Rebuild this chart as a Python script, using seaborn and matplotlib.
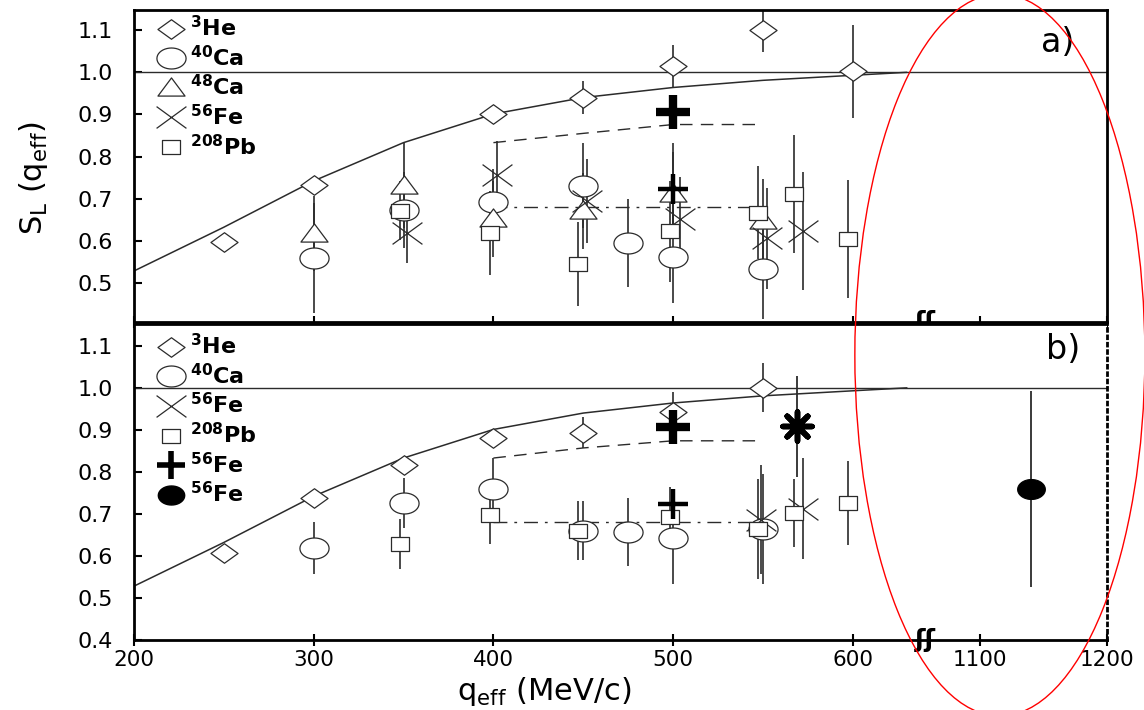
import numpy as np
import matplotlib
matplotlib.use("Agg")
import matplotlib.pyplot as plt
import seaborn as sns
from matplotlib.path import Path
from matplotlib.lines import Line2D
from matplotlib.patches import Ellipse

# ---------------- data ----------------
curve_q = [200, 250, 300, 350, 400, 450, 500, 550, 600, 630]
curve_s = [0.528, 0.632, 0.742, 0.833, 0.901, 0.940, 0.964, 0.981, 0.993, 1.0]

# panel a
a_he_q = [250, 300, 400, 450, 500, 550, 600]
a_he_s = [0.598, 0.733, 0.902, 0.940, 1.014, 1.100, 1.002]
a_he_e = [0.0, 0.0, 0.012, 0.040, 0.050, 0.052, 0.110]
a_ca40_q = [300, 350, 400, 450, 475, 500, 550]
a_ca40_s = [0.559, 0.673, 0.691, 0.731, 0.594, 0.562, 0.533]
a_ca40_e = [0.13, 0.09, 0.08, 0.10, 0.105, 0.11, 0.12]
a_ca48_q = [300, 350, 400, 450, 500, 550]
a_ca48_s = [0.617, 0.731, 0.652, 0.671, 0.711, 0.646]
a_ca48_e = [0.09, 0.10, 0.09, 0.09, 0.10, 0.10]
a_fe_q = [352, 402, 452, 504, 552, 572]
a_fe_s = [0.618, 0.757, 0.695, 0.652, 0.606, 0.624]
a_fe_e = [0.07, 0.08, 0.10, 0.10, 0.12, 0.14]
a_pb_q = [348, 398, 447, 498, 547, 567, 597]
a_pb_s = [0.671, 0.618, 0.545, 0.622, 0.667, 0.711, 0.604]
a_pb_e = [0.07, 0.10, 0.10, 0.12, 0.11, 0.14, 0.14]
a_bigplus_q = [500]
a_bigplus_s = [0.905]
a_plus_q = [500]
a_plus_s = [0.723]
a_plus_e = [0.11]
a_dash_q = [400, 450, 500, 550]
a_dash_s = [0.833, 0.855, 0.876, 0.876]
a_dot_q = [400, 550]
a_dot_s = [0.679, 0.679]

# panel b
b_he_q = [250, 300, 350, 400, 450, 500, 550]
b_he_s = [0.607, 0.738, 0.817, 0.880, 0.893, 0.943, 1.000]
b_he_e = [0.0, 0.0, 0.0, 0.0, 0.037, 0.047, 0.058]
b_ca40_q = [300, 350, 400, 450, 475, 500, 550]
b_ca40_s = [0.619, 0.726, 0.760, 0.660, 0.657, 0.643, 0.664]
b_ca40_e = [0.062, 0.060, 0.073, 0.070, 0.080, 0.110, 0.130]
b_fe_q = [549, 572]
b_fe_s = [0.686, 0.712]
b_fe_e = [0.13, 0.12]
b_pb_q = [348, 398, 447, 498, 547, 567, 597]
b_pb_s = [0.628, 0.698, 0.660, 0.693, 0.664, 0.702, 0.726]
b_pb_e = [0.06, 0.07, 0.07, 0.07, 0.12, 0.08, 0.10]
b_bigplus_q = [500]
b_bigplus_s = [0.907]
b_plus_q = [500]
b_plus_s = [0.724]
b_star_q = [569]
b_star_s = [0.909]
b_star_e = [0.12]
b_dot_fe_q = [1140]
b_dot_fe_s = [0.760]
b_dot_fe_e = [0.233]
b_dash_q = [400, 450, 500, 550]
b_dash_s = [0.833, 0.857, 0.874, 0.874]
b_dot_q = [400, 550]
b_dot_s = [0.681, 0.681]

x_ticks = [200, 300, 400, 500, 600, 1100, 1200]
a_yticks = [0.5, 0.6, 0.7, 0.8, 0.9, 1.0, 1.1]
b_yticks = [0.4, 0.5, 0.6, 0.7, 0.8, 0.9, 1.0, 1.1]
legend_a = [r"$^{\mathbf{3}}$He", r"$^{\mathbf{40}}$Ca", r"$^{\mathbf{48}}$Ca",
            r"$^{\mathbf{56}}$Fe", r"$^{\mathbf{208}}$Pb"]
legend_b = [r"$^{\mathbf{3}}$He", r"$^{\mathbf{40}}$Ca", r"$^{\mathbf{56}}$Fe",
            r"$^{\mathbf{208}}$Pb", r"$^{\mathbf{56}}$Fe", r"$^{\mathbf{56}}$Fe"]

# ---------------- style ----------------
sns.set_theme(style="ticks", rc={"text.color": "black", "axes.labelcolor": "black",
                                 "xtick.color": "black", "ytick.color": "black"})
plt.rcParams["font.family"] = ["DejaVu Sans"]
plt.rcParams["mathtext.fontset"] = "dejavusans"
plt.rcParams["mathtext.default"] = "regular"

INK = "#2b2b2b"


def closed(verts):
    v = list(verts) + [verts[0]]
    codes = [Path.MOVETO] + [Path.LINETO] * (len(verts) - 1) + [Path.CLOSEPOLY]
    return Path(v, codes)


t = np.linspace(0, 2 * np.pi, 41)[:-1]
M_DIAMOND = closed([(-1, 0), (0, 0.72), (1, 0), (0, -0.72)])
M_CIRCLE = closed(list(zip(np.cos(t), 0.72 * np.sin(t))))
M_TRI = closed([(-1, -0.56), (1, -0.56), (0, 0.78)])
M_SQUARE = closed([(-1, -0.72), (1, -0.72), (1, 0.72), (-1, 0.72)])
M_X = Path([(-1, -0.73), (1, 0.73), (-1, 0.73), (1, -0.73)],
           [Path.MOVETO, Path.LINETO, Path.MOVETO, Path.LINETO])

SIZES = {"d": 19.5, "o": 21.0, "t": 19.5, "s": 13.5, "x": 21.5}
MARK = {"d": M_DIAMOND, "o": M_CIRCLE, "t": M_TRI, "s": M_SQUARE, "x": M_X}

# piecewise (broken) x scale
BRK, Q1, X1, RS = 640.0, 1100.0, 670.6, 0.706


def fwd(x):
    x = np.asarray(x, dtype=float)
    return np.where(x <= BRK, x,
                    np.where(x <= Q1, BRK + (x - BRK) * (X1 - BRK) / (Q1 - BRK),
                             X1 + (x - Q1) * RS))


def inv(y):
    y = np.asarray(y, dtype=float)
    return np.where(y <= BRK, y,
                    np.where(y <= X1, BRK + (y - BRK) * (Q1 - BRK) / (X1 - BRK),
                             Q1 + (y - X1) / RS))


fig = plt.figure(figsize=(11.44, 7.10), dpi=100)
ax_a = fig.add_axes([0.117, 0.5465, 0.8505, 0.4394])
ax_b = fig.add_axes([0.117, 0.0986, 0.8505, 0.4451])


def open_series(ax, q, s, e, key):
    ax.errorbar(q, s, yerr=e, fmt="none", ecolor=INK, elinewidth=1.2, capsize=0, zorder=2)
    sns.scatterplot(x=q, y=s, ax=ax, marker=MARK[key], s=SIZES[key] ** 2,
                    facecolor="white", edgecolor=INK, linewidth=0.9, zorder=3,
                    legend=False)


def base(ax):
    ax.set_xscale("function", functions=(fwd, inv))
    ax.set_xlim(200, 1200)
    ax.axhline(1.0, color=INK, lw=1.0, zorder=1)
    sns.lineplot(x=curve_q, y=curve_s, ax=ax, color=INK, lw=1.1, zorder=1,
                 estimator=None, sort=False)
    ax.set_xticks(x_ticks)
    for sp in ax.spines.values():
        sp.set_visible(True)
        sp.set_linewidth(2.0)
        sp.set_color("black")
    ax.tick_params(axis="y", direction="in", length=6, width=1.5,
                   labelsize=16, pad=15, colors="black")
    ax.tick_params(axis="x", direction="inout", length=8, width=1.5,
                   labelsize=15.5, pad=3.5, colors="black")
    ax.set_xlabel("")
    ax.set_ylabel("")
    # axis break marks
    ax.text(BRK, 0, "ʃʃ", transform=ax.get_xaxis_transform(), ha="center", va="center",
            fontsize=18, fontweight="bold", color="black", zorder=6, clip_on=False)


leg_kw = dict(loc="upper left", borderaxespad=0.0,
              frameon=False, prop=dict(weight="bold", size=16),
              handletextpad=0.12, labelspacing=0.2, handlelength=1.5, borderpad=0.2)

# ---------------- panel a ----------------
base(ax_a)
sns.lineplot(x=a_dash_q, y=a_dash_s, ax=ax_a, color=INK, lw=1.0,
             linestyle=(0, (9, 6)), estimator=None, sort=False, zorder=1)
sns.lineplot(x=a_dot_q, y=a_dot_s, ax=ax_a, color=INK, lw=1.0,
             linestyle=(0, (10, 5, 2, 5)), estimator=None, sort=False, zorder=1)
open_series(ax_a, a_he_q, a_he_s, a_he_e, "d")
open_series(ax_a, a_ca40_q, a_ca40_s, a_ca40_e, "o")
open_series(ax_a, a_ca48_q, a_ca48_s, a_ca48_e, "t")
open_series(ax_a, a_fe_q, a_fe_s, a_fe_e, "x")
open_series(ax_a, a_pb_q, a_pb_s, a_pb_e, "s")
ax_a.errorbar(a_plus_q, a_plus_s, yerr=a_plus_e, fmt="none", ecolor=INK, elinewidth=1.2, zorder=2)
sns.scatterplot(x=a_plus_q, y=a_plus_s, ax=ax_a, marker="+", s=22 ** 2, color="black",
                linewidth=3.2, zorder=4, legend=False)
sns.scatterplot(x=a_bigplus_q, y=a_bigplus_s, ax=ax_a, marker="+", s=25 ** 2, color="black",
                linewidth=6, zorder=4, legend=False)
ax_a.set_ylim(0.407, 1.148)
ax_a.set_yticks(a_yticks)
ax_a.set_yticklabels([f"{v:.1f}" for v in a_yticks])
ax_a.tick_params(axis="x", labelbottom=False)
ax_a.text(0.95, 0.897, "a)", transform=ax_a.transAxes, fontsize=24,
          ha="center", va="center")


def h(key):
    return Line2D([], [], linestyle="none", marker=MARK[key], markersize=SIZES[key],
                  markerfacecolor="white", markeredgecolor=INK, markeredgewidth=0.9)


handles_a = [h("d"), h("o"), h("t"), h("x"), h("s")]
ax_a.legend(handles_a, legend_a, bbox_to_anchor=(0.016, 0.998), **leg_kw)

# ---------------- panel b ----------------
base(ax_b)
sns.lineplot(x=b_dash_q, y=b_dash_s, ax=ax_b, color=INK, lw=1.0,
             linestyle=(0, (9, 6)), estimator=None, sort=False, zorder=1)
sns.lineplot(x=b_dot_q, y=b_dot_s, ax=ax_b, color=INK, lw=1.0,
             linestyle=(0, (10, 5, 2, 5)), estimator=None, sort=False, zorder=1)
open_series(ax_b, b_he_q, b_he_s, b_he_e, "d")
open_series(ax_b, b_ca40_q, b_ca40_s, b_ca40_e, "o")
open_series(ax_b, b_fe_q, b_fe_s, b_fe_e, "x")
open_series(ax_b, b_pb_q, b_pb_s, b_pb_e, "s")
sns.scatterplot(x=b_plus_q, y=b_plus_s, ax=ax_b, marker="+", s=22 ** 2, color="black",
                linewidth=3.2, zorder=4, legend=False)
sns.scatterplot(x=b_bigplus_q, y=b_bigplus_s, ax=ax_b, marker="+", s=25 ** 2, color="black",
                linewidth=6, zorder=4, legend=False)
ax_b.errorbar(b_star_q, b_star_s, yerr=b_star_e, fmt="none", ecolor=INK, elinewidth=1.3, zorder=2)
sns.scatterplot(x=b_star_q, y=b_star_s, ax=ax_b, marker=(8, 2, 0), s=21 ** 2, color="black",
                linewidth=4, zorder=4, legend=False)
ax_b.errorbar(b_dot_fe_q, b_dot_fe_s, yerr=b_dot_fe_e, fmt="none", ecolor=INK, elinewidth=1.3, zorder=2)
sns.scatterplot(x=b_dot_fe_q, y=b_dot_fe_s, ax=ax_b, marker=M_CIRCLE, s=20 ** 2,
                facecolor="black", edgecolor="black", linewidth=0.8, zorder=4, legend=False)
ax_b.set_ylim(0.4, 1.152)
ax_b.set_yticks(b_yticks)
ax_b.set_yticklabels([f"{v:.1f}" for v in b_yticks])
ax_b.set_xticklabels([str(v) for v in x_ticks])
ax_b.spines["right"].set_linestyle(":")
ax_b.text(0.955, 0.918, "b)", transform=ax_b.transAxes, fontsize=24,
          ha="center", va="center")

handles_b = [h("d"), h("o"), h("x"), h("s"),
             Line2D([], [], linestyle="none", marker="+", markersize=20,
                    markeredgewidth=4, color="black"),
             Line2D([], [], linestyle="none", marker=M_CIRCLE, markersize=19,
                    markerfacecolor="black", markeredgecolor="black")]
ax_b.legend(handles_b, legend_b, bbox_to_anchor=(0.016, 0.985), **leg_kw)

# ---------------- labels ----------------
fig.text(0.029, 0.749, r"S$_{\rm L}$ (q$_{\rm eff}$)", rotation=90, fontsize=22,
         ha="center", va="center")
fig.text(0.476, 0.0135, r"q$_{\rm eff}$ (MeV/c)", fontsize=22, ha="center", va="baseline")

# red annotation ellipse
fig.add_artist(Ellipse((0.874, 0.5), 0.2535, 1.017, transform=fig.transFigure,
                       fill=False, edgecolor="red", lw=1.0, zorder=10))

fig.savefig("out.png", dpi=100)
